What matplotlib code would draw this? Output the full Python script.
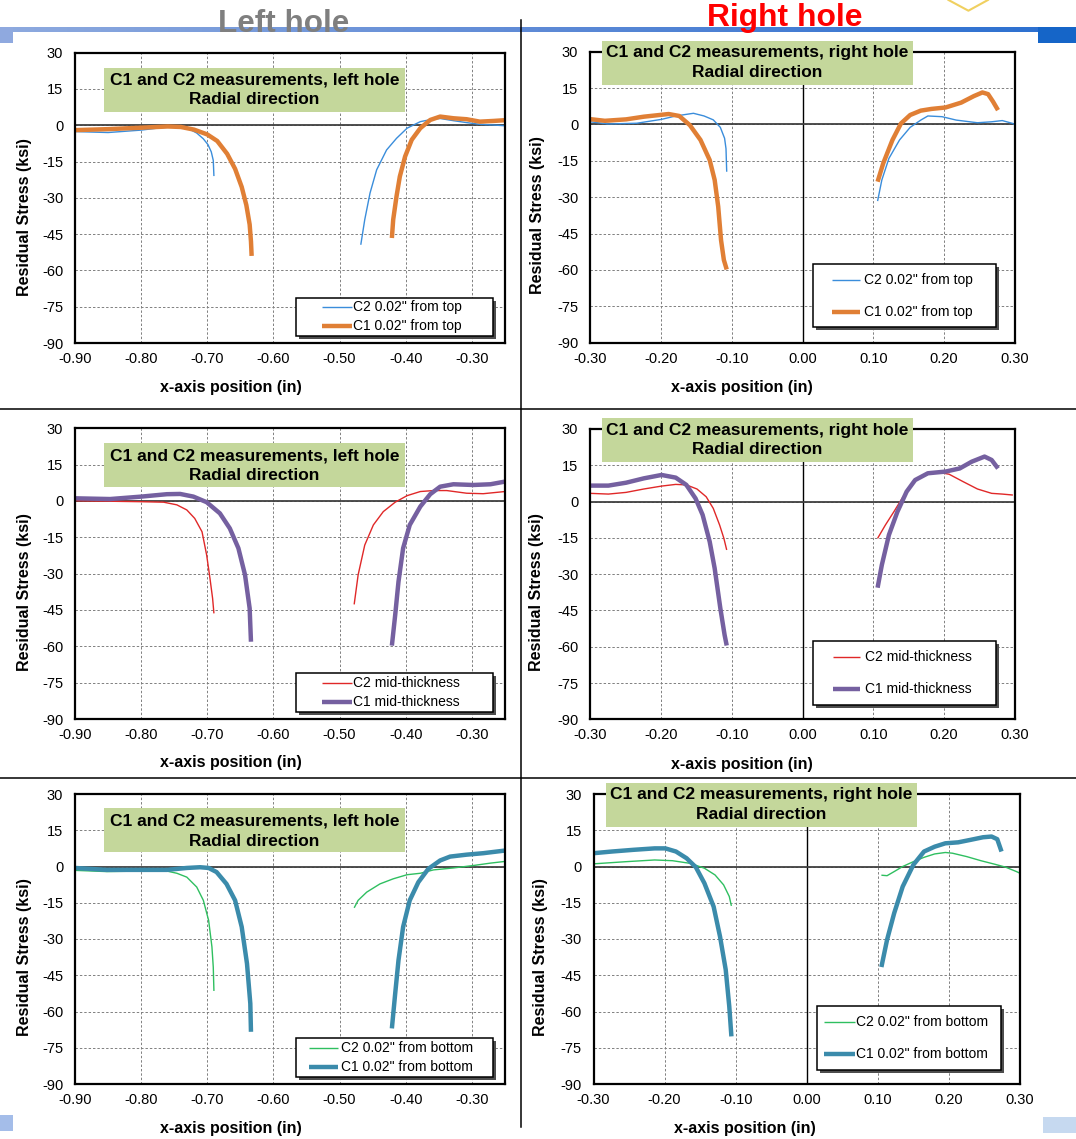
import numpy as np
import matplotlib.pyplot as plt
from matplotlib.patches import Rectangle
from matplotlib.colors import LinearSegmentedColormap
from matplotlib.ticker import FormatStrFormatter

plt.rcParams['font.family'] = ['Liberation Sans', 'DejaVu Sans']
plt.rcParams['axes.unicode_minus'] = False

W, H = 1076, 1139
nan = np.nan

# ---- data (x in inches, residual stress in ksi); nan splits the two sides of the hole ----
# left hole, 0.02" from top
lt_c2_x = [-0.900, -0.850, -0.800, -0.770, -0.750, -0.730, -0.716, -0.706, -0.699, -0.694, -0.691, -0.690,
           nan, -0.468, -0.462, -0.454, -0.444, -0.429, -0.414, -0.398, -0.378, -0.358, -0.348, -0.328,
           -0.308, -0.288, -0.267, -0.250]
lt_c2_y = [-2.6, -3.0, -2.0, -1.0, -0.6, -1.2, -3.2, -5.6, -8.0, -11.0, -14.5, -21.0,
           nan, -49.4, -39.0, -28.0, -18.4, -10.2, -5.4, -1.2, 1.5, 2.6, 2.8, 1.9, 1.1, 0.4, 0.1, -0.2]
lt_c1_x = [-0.900, -0.850, -0.800, -0.760, -0.740, -0.720, -0.700, -0.685, -0.670, -0.658, -0.648, -0.641,
           -0.636, -0.634, -0.633,
           nan, -0.421, -0.419, -0.414, -0.409, -0.401, -0.391, -0.378, -0.363, -0.348, -0.328, -0.308,
           -0.288, -0.267, -0.250]
lt_c1_y = [-2.0, -1.6, -1.0, -0.5, -0.7, -1.8, -3.8, -6.5, -11.8, -18.0, -25.5, -33.0, -41.0, -48.0, -54.0,
           nan, -46.6, -39.0, -29.4, -21.2, -12.9, -6.0, -1.2, 2.2, 3.6, 2.9, 2.5, 1.5, 1.8, 2.1]

# right hole, 0.02" from top
rt_c2_x = [-0.300, -0.274, -0.234, -0.199, -0.179, -0.154, -0.139, -0.126, -0.116, -0.110, -0.108, -0.107,
           nan, 0.106, 0.112, 0.122, 0.137, 0.152, 0.167, 0.177, 0.197, 0.217, 0.247, 0.267, 0.282, 0.297, 0.300]
rt_c2_y = [1.1, 0.2, 0.5, 2.1, 3.5, 4.6, 3.5, 1.9, -1.2, -5.7, -10.0, -19.5,
           nan, -31.6, -22.9, -14.0, -6.4, -1.2, 1.8, 3.5, 3.2, 1.8, 0.7, 1.1, 1.6, 0.4, -0.2]
rt_c1_x = [-0.300, -0.279, -0.249, -0.224, -0.189, -0.174, -0.159, -0.144, -0.131, -0.124, -0.119, -0.115,
           -0.111, -0.107,
           nan, 0.106, 0.114, 0.127, 0.139, 0.152, 0.167, 0.182, 0.202, 0.224, 0.242, 0.254, 0.262, 0.269, 0.276]
rt_c1_y = [2.2, 1.5, 2.1, 3.2, 4.3, 3.5, -0.3, -6.4, -14.7, -22.9, -33.9, -47.7, -55.9, -59.8,
           nan, -23.6, -16.0, -6.4, 0.4, 3.9, 5.7, 6.4, 7.0, 9.0, 11.7, 13.2, 12.5, 9.4, 5.9]

# left hole, mid-thickness
lm_c2_x = [-0.900, -0.800, -0.766, -0.746, -0.731, -0.719, -0.708, -0.701, -0.696, -0.692, -0.690,
           nan, -0.478, -0.472, -0.462, -0.449, -0.434, -0.416, -0.398, -0.378, -0.358, -0.338, -0.308,
           -0.283, -0.250]
lm_c2_y = [0.1, -0.3, -0.5, -1.6, -3.7, -7.2, -12.7, -22.3, -31.9, -40.2, -46.4,
           nan, -42.7, -30.5, -18.2, -9.9, -4.4, -0.5, 2.2, 3.9, 4.3, 4.3, 3.2, 3.0, 3.9]
lm_c1_x = [-0.900, -0.847, -0.800, -0.761, -0.741, -0.721, -0.701, -0.681, -0.666, -0.653, -0.643, -0.636,
           -0.634,
           nan, -0.421, -0.416, -0.411, -0.404, -0.394, -0.378, -0.363, -0.348, -0.328, -0.298, -0.272, -0.250]
lm_c1_y = [1.1, 0.8, 1.8, 2.8, 2.9, 1.8, -0.5, -5.1, -11.3, -19.5, -30.5, -44.3, -58.1,
           nan, -59.7, -47.1, -33.3, -19.5, -9.9, -2.3, 2.8, 5.9, 6.9, 6.6, 6.9, 8.0]

# right hole, mid-thickness
rm_c2_x = [-0.300, -0.274, -0.249, -0.224, -0.199, -0.179, -0.164, -0.149, -0.136, -0.126, -0.117, -0.111,
           -0.107,
           nan, 0.106, 0.117, 0.129, 0.142, 0.157, 0.172, 0.192, 0.207, 0.227, 0.247, 0.267, 0.282, 0.297]
rm_c2_y = [3.4, 3.1, 3.8, 5.2, 6.4, 7.1, 6.9, 5.2, 2.0, -2.8, -9.7, -15.2, -20.0,
           nan, -15.2, -9.7, -4.2, 2.0, 8.2, 11.0, 12.1, 11.3, 8.2, 5.2, 3.4, 3.1, 2.7]
rm_c1_x = [-0.300, -0.274, -0.249, -0.224, -0.199, -0.179, -0.164, -0.151, -0.141, -0.131, -0.124, -0.116,
           -0.110, -0.107,
           nan, 0.106, 0.112, 0.122, 0.134, 0.147, 0.159, 0.177, 0.202, 0.222, 0.239, 0.257, 0.267, 0.276]
rm_c1_y = [6.6, 6.6, 7.8, 9.6, 11.0, 9.9, 6.9, 1.3, -5.5, -16.6, -27.6, -44.1, -55.1, -59.5,
           nan, -35.6, -26.2, -13.8, -4.2, 4.1, 8.9, 11.7, 12.4, 13.7, 16.5, 18.6, 17.2, 13.7]

# left hole, 0.02" from bottom
lb_c2_x = [-0.900, -0.852, -0.800, -0.761, -0.746, -0.731, -0.716, -0.706, -0.698, -0.693, -0.691, -0.690,
           nan, -0.478, -0.472, -0.459, -0.439, -0.419, -0.398, -0.378, -0.358, -0.328, -0.298, -0.272, -0.250]
lb_c2_y = [-1.6, -2.1, -1.9, -1.9, -2.8, -4.4, -8.5, -14.0, -22.3, -33.3, -41.6, -51.5,
           nan, -17.1, -14.0, -10.6, -7.2, -5.1, -3.4, -2.8, -1.4, -0.6, 0.4, 1.4, 2.1]
lb_c1_x = [-0.900, -0.852, -0.800, -0.761, -0.731, -0.711, -0.698, -0.686, -0.671, -0.658, -0.648, -0.640,
           -0.635, -0.634,
           nan, -0.421, -0.416, -0.411, -0.404, -0.394, -0.381, -0.366, -0.348, -0.333, -0.308, -0.283, -0.250]
lb_c1_y = [-0.6, -1.4, -1.4, -1.4, -0.6, -0.3, -0.6, -2.3, -7.2, -14.0, -25.0, -40.2, -56.7, -68.4,
           nan, -67.0, -52.6, -38.8, -25.0, -14.0, -6.5, -1.0, 2.5, 4.1, 4.9, 5.5, 6.6]

# right hole, 0.02" from bottom
rb_c2_x = [-0.300, -0.254, -0.214, -0.189, -0.164, -0.144, -0.129, -0.117, -0.109, -0.106,
           nan, 0.105, 0.113, 0.123, 0.135, 0.150, 0.165, 0.180, 0.195, 0.205, 0.225, 0.245, 0.265, 0.280,
           0.295, 0.300]
rb_c2_y = [1.1, 2.0, 2.7, 2.4, 1.3, -0.7, -3.5, -7.6, -12.4, -16.3,
           nan, -3.6, -3.8, -2.1, 0.0, 2.0, 3.8, 5.2, 5.8, 5.5, 4.1, 2.4, 0.9, -0.3, -2.1, -2.8]
rb_c1_x = [-0.300, -0.274, -0.244, -0.214, -0.199, -0.184, -0.169, -0.156, -0.144, -0.131, -0.122, -0.114,
           -0.109, -0.106,
           nan, 0.105, 0.113, 0.123, 0.135, 0.150, 0.165, 0.180, 0.195, 0.213, 0.230, 0.248, 0.260, 0.268, 0.274]
rb_c1_y = [5.5, 6.2, 6.9, 7.5, 7.5, 6.2, 3.4, -0.3, -6.9, -16.6, -29.0, -42.7, -57.9, -70.3,
           nan, -41.6, -30.3, -19.3, -8.3, 0.7, 6.2, 8.2, 9.6, 10.0, 11.0, 12.1, 12.4, 11.3, 6.2]

left_xticks = [-0.9, -0.8, -0.7, -0.6, -0.5, -0.4, -0.3]
right_xticks = [-0.3, -0.2, -0.1, 0.0, 0.1, 0.2, 0.3]
yticks = [-90, -75, -60, -45, -30, -15, 0, 15, 30]

top_names = ['C2 0.02" from top', 'C1 0.02" from top']
mid_names = ['C2 mid-thickness', 'C1 mid-thickness']
bot_names = ['C2 0.02" from bottom', 'C1 0.02" from bottom']

fig = plt.figure(figsize=(W / 100, H / 100), dpi=100)


def px_rect(l, t, r, b):
    return [l / W, 1 - b / H, (r - l) / W, (b - t) / H]


def pixel_axes(z, name):
    a = fig.add_axes([0, 0, 1, 1], zorder=z, label=name)
    a.set_xlim(0, W)
    a.set_ylim(H, 0)
    a.axis('off')
    return a


# slide decoration
bg = pixel_axes(-1, 'bg')
band = LinearSegmentedColormap.from_list('band', ['#8eaadf', '#5e8ad6', '#2a6fd0'])
bg.imshow(np.linspace(0, 1, 256)[None, :], cmap=band, extent=(0, W, 32, 27), aspect='auto')
bg.add_patch(Rectangle((0, 27), 12.7, 15.7, color='#8fa9df', lw=0))
bg.add_patch(Rectangle((1038, 27), 38, 15.7, color='#1565c8', lw=0))
bg.add_patch(Rectangle((0, 1115), 12.7, 15.7, color='#a4bde9', lw=0))
bg.add_patch(Rectangle((1042.6, 1117), 33.4, 16.3, color='#c6d9f0', lw=0))
bg.plot([948.5, 968.4, 987.9], [0, 10.7, 0], color='#f0d060', lw=1.5)
bg.plot([521.3, 521.3], [20, 1127], color='black', lw=1.1)
bg.plot([0, W], [409, 409], color='black', lw=1.1)
bg.plot([0, W], [777.5, 777.5], color='black', lw=1.1)
bg.text(284, 32, 'Left hole', ha='center', va='baseline', fontsize=22.6, fontweight='bold',
        color='#7f7f7f', zorder=5)
bg.text(784.5, 26, 'Right hole', ha='center', va='baseline', fontsize=22.9, fontweight='bold',
        color='#ff0000', zorder=5)
bg.set_xlim(0, W)
bg.set_ylim(H, 0)

ov = pixel_axes(5, 'overlay')


def draw_panel(box, hole, c2, c1, names, colors, tbox, tlines, lbox, lrows, lline, ltext, xl_xy, yl_xy):
    l, t, r, b = box
    ax = fig.add_axes(px_rect(l, t, r, b))
    if hole == 'left':
        ax.set_xlim(-0.9, -0.25)
        ax.set_xticks(left_xticks)
    else:
        ax.set_xlim(-0.3, 0.3)
        ax.set_xticks(right_xticks)
        ax.axvline(0, color='black', lw=1.0, zorder=1.8)
    ax.set_ylim(-90, 30)
    ax.set_yticks(yticks)
    ax.xaxis.set_major_formatter(FormatStrFormatter('%.2f'))
    ax.grid(True, color='#808080', lw=0.7, ls=(0, (2.5, 2)))
    ax.axhline(0, color='#404040', lw=1.3, zorder=1.8)
    ax.tick_params(length=0, labelsize=10.5)
    ax.tick_params(axis='x', pad=6.5)
    ax.tick_params(axis='y', pad=8.5)
    for s in ax.spines.values():
        s.set_linewidth(1.6)

    h2, = ax.plot(c2[0], c2[1], color=colors[0], lw=1.0, solid_joinstyle='round', solid_capstyle='butt')
    h1, = ax.plot(c1[0], c1[1], color=colors[1], lw=3.2, solid_joinstyle='round', solid_capstyle='butt')

    ax.set_xlabel('x-axis position (in)', fontsize=11.5, fontweight='bold')
    ax.set_ylabel('Residual Stress (ksi)', fontsize=11.5, fontweight='bold')
    ax.xaxis.label.set_va('center')
    ax.yaxis.label.set_va('center')
    ax.xaxis.set_label_coords((xl_xy[0] - l) / (r - l), (b - xl_xy[1]) / (b - t))
    ax.yaxis.set_label_coords((yl_xy[0] - l) / (r - l), (b - yl_xy[1]) / (b - t))

    # green chart title box
    tl, tt, tr, tb = tbox
    ov.add_patch(Rectangle((tl, tt), tr - tl, tb - tt, facecolor='#c4d79b', edgecolor='none'))
    side = 'left' if hole == 'left' else 'right'
    for y, txt in zip(tlines, ['C1 and C2 measurements, %s hole' % side, 'Radial direction']):
        ov.text((tl + tr) / 2, y, txt, ha='center', va='center', fontsize=12.5, fontweight='bold')

    # legend box with shadow
    gl, gt, gr, gb = lbox
    ov.add_patch(Rectangle((gl + 3, gt + 3), gr - gl, gb - gt, facecolor='#4d4d4d', edgecolor='none'))
    ov.add_patch(Rectangle((gl, gt), gr - gl, gb - gt, facecolor='white', edgecolor='black', lw=1.1))
    for y, h, name in zip(lrows, [h2, h1], names):
        ov.plot(lline, [y, y], color=h.get_color(), lw=h.get_linewidth(), solid_capstyle='butt')
        ov.text(ltext, y, name, ha='left', va='center', fontsize=10)
    return ax


draw_panel((75, 52.7, 505, 343), 'left', (lt_c2_x, lt_c2_y), (lt_c1_x, lt_c1_y), top_names,
           ['#3a8ddb', '#e07f35'], (104, 68, 405, 112), (80, 100),
           (296, 297.7, 492.7, 336), (306.7, 326), (321.7, 351.7), 353, (231, 387.7), (25, 216.7))
draw_panel((590, 51.7, 1015, 342.7), 'right', (rt_c2_x, rt_c2_y), (rt_c1_x, rt_c1_y), top_names,
           ['#3a8ddb', '#e07f35'], (602, 41, 913, 85), (52.7, 72.7),
           (812.6, 264, 996, 327.3), (280, 312.3), (832, 860.4), 864, (741.6, 387.7), (537.7, 215))
draw_panel((75, 428.3, 505, 719), 'left', (lm_c2_x, lm_c2_y), (lm_c1_x, lm_c1_y), mid_names,
           ['#e02828', '#7560a0'], (104, 443.3, 405, 487.3), (455.7, 476),
           (296, 673.3, 492.7, 711.7), (682.7, 701.7), (321.7, 351.7), 353, (231, 763), (25, 592))
draw_panel((590, 429, 1015, 719.3), 'right', (rm_c2_x, rm_c2_y), (rm_c1_x, rm_c1_y), mid_names,
           ['#e02828', '#7560a0'], (602, 417.7, 913, 461.7), (430, 449.3),
           (812.6, 641, 996, 705), (656.7, 689), (833, 860.4), 864.7, (741.6, 764), (536.7, 591.7))
draw_panel((75, 794, 505, 1084), 'left', (lb_c2_x, lb_c2_y), (lb_c1_x, lb_c1_y), bot_names,
           ['#2fbf60', '#3b8bab'], (104, 808.3, 405, 852.3), (820.7, 841),
           (296, 1038.3, 492.7, 1076.7), (1047.7, 1066.7), (309.3, 338.3), 340.7, (231, 1128), (25, 957))
draw_panel((593.5, 794, 1020, 1084), 'right', (rb_c2_x, rb_c2_y), (rb_c1_x, rb_c1_y), bot_names,
           ['#2fbf60', '#3b8bab'], (606, 782.7, 917, 826.7), (795, 814.3),
           (817, 1006, 1000.5, 1070), (1021.7, 1054), (824, 855), 856, (745, 1129), (540, 956.7))

fig.savefig('out.png', dpi=100)
